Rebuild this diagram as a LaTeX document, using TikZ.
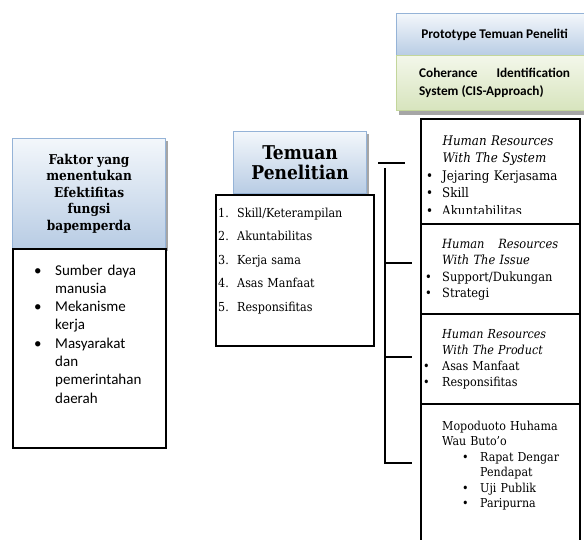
\documentclass[tikz,border=0pt]{standalone}
\usepackage{fontspec}
\setmainfont{DejaVu Serif Condensed}
\newfontfamily\calibri{Carlito}
\usetikzlibrary{shadows}
\definecolor{headblue}{HTML}{B8CCE4}
\definecolor{headbluetop}{HTML}{F3F7FB}
\definecolor{headblueline}{HTML}{95B3D7}
\definecolor{headgreen}{HTML}{D7E4BD}
\definecolor{headgreentop}{HTML}{F3F7EA}
\definecolor{headgreenline}{HTML}{C3D69B}
\begin{document}
\begin{tikzpicture}[x=1pt,y=-1pt]
        % Styles
        \tikzstyle{blue box}=[draw=headblueline,line width=1.2pt,top color=headbluetop,bottom color=headblue,drop shadow={shadow xshift=2.5pt,shadow yshift=-2.5pt,fill=black!35,opacity=1}]
        \tikzstyle{green box}=[draw=headgreenline,line width=1.2pt,top color=headgreentop,bottom color=headgreen,drop shadow={shadow xshift=2pt,shadow yshift=-4pt,fill=black!35,opacity=1}]
        \tikzstyle{list box}=[draw,line width=1.6pt,fill=white,anchor=north west]
        \tikzstyle{item box}=[draw,line width=1.6pt,fill=white,anchor=north west,minimum width=159pt]
        \tikzstyle{list text}=[anchor=base west,inner sep=0pt,align=left]
        \tikzstyle{connector}=[line width=1.4pt]
        \useasboundingbox (0,0) rectangle (584,539);
        %left column
        \node[blue box,anchor=north west,minimum width=153pt,minimum height=110pt,align=center,
              font=\bfseries\fontsize{13.5}{16.5}\selectfont] (faktor) at (12,138)
              {Faktor yang\\menentukan\\Efektifitas\\fungsi\\bapemperda};
        \node[list box,minimum width=153pt,minimum height=199pt] (faktorbox) at (12,248) {};
        \node[list text,text width=125pt,font=\calibri\fontsize{15}{18.3}\selectfont] (faktoritems) at (34,275)
              {\makebox[21pt][l]{•}Sumber daya\\\hspace*{21pt}manusia\\
               \makebox[21pt][l]{•}Mekanisme\\\hspace*{21pt}kerja\\
               \makebox[21pt][l]{•}Masyarakat\\\hspace*{21pt}dan\\\hspace*{21pt}pemerintahan\\\hspace*{21pt}daerah};
        %middle column
        \node[blue box,anchor=north west,minimum width=133pt,minimum height=62pt,align=center,
              font=\bfseries\fontsize{19}{20.5}\selectfont] (temuan) at (233,131) {Temuan\\Penelitian};
        \node[list box,minimum width=158pt,minimum height=151pt,drop shadow={shadow xshift=1.5pt,shadow yshift=-1.5pt,fill=black!40,opacity=1}] (temuanbox) at (215,194) {};
        \node[list text,text width=150pt,font=\fontsize{12.4}{23.5}\selectfont] (temuanitems) at (218,217)
              {\makebox[19pt][l]{1.}Skill/Keterampilan\\\makebox[19pt][l]{2.}Akuntabilitas\\
               \makebox[19pt][l]{3.}Kerja sama\\\makebox[19pt][l]{4.}Asas Manfaat\\\makebox[19pt][l]{5.}Responsifitas};
        %right column
        \node[blue box,anchor=north west,minimum width=196pt,minimum height=42pt,
              font=\calibri\bfseries\fontsize{13.3}{16}\selectfont] (prototype) at (396,13) {Prototype Temuan Peneliti};
        \node[green box,anchor=north west,minimum width=196pt,minimum height=55pt,align=left,
              font=\calibri\bfseries\fontsize{13.3}{18}\selectfont] (cis) at (396,55)
              {\hbox to 151pt{Coherance\hfill Identification}\\System (CIS-Approach)};
        \node[item box,minimum height=105pt] (system) at (420,118) {};
        \node[item box,minimum height=90pt] (issue) at (420,223) {};
        \node[item box,minimum height=90pt] (product) at (420,313) {};
        \node[item box,minimum height=145pt] (buto) at (420,403) {};
        \begin{scope}
            \clip (420,118) rectangle (579,213);
            \node[list text,text width=155pt,font=\fontsize{13.2}{17.5}\selectfont] (systemitems) at (426,145)
                  {\hspace*{16.5pt}\textit{Human Resources}\\\hspace*{16.5pt}\textit{With The System}\\
                   \makebox[16pt][l]{•}Jejaring Kerjasama\\\makebox[16pt][l]{•}Skill\\\makebox[16pt][l]{•}Akuntabilitas};
        \end{scope}
        \node[list text,text width=155pt,font=\fontsize{12.7}{16.5}\selectfont] (issueitems) at (425,248)
              {\hspace*{17pt}\hbox to 116pt{\itshape Human\hfill Resources}\\\hspace*{17pt}\textit{With The Issue}\\
               \makebox[17pt][l]{•}Support/Dukungan\\\makebox[17pt][l]{•}Strategi};
        \node[list text,text width=155pt,font=\fontsize{12.4}{16.3}\selectfont] (productitems) at (423,338)
              {\hspace*{19pt}\textit{Human Resources}\\\hspace*{19pt}\textit{With The Product}\\
               \makebox[19pt][l]{•}Asas Manfaat\\\makebox[19pt][l]{•}Responsifitas};
        \node[list text,text width=150pt,font=\fontsize{12.3}{15.5}\selectfont] (butoitems) at (442,430)
              {Mopoduoto Huhama\\Wau Buto'o\\
               \hspace*{20pt}\makebox[18pt][l]{•}Rapat Dengar\\\hspace*{38pt}Pendapat\\
               \hspace*{20pt}\makebox[18pt][l]{•}Uji Publik\\\hspace*{20pt}\makebox[18pt][l]{•}Paripurna};
        %connectors
        \coordinate (temuan end) at (378,163);
        \coordinate (temuan tick) at (405,163);
        \coordinate (bus top) at (385,168);
        \draw[connector] (temuan end) -- (temuan tick);
        \foreach \stub/\yy in {issue/263,product/357}
        {
            \coordinate (\stub stub) at (412,\yy);
            \draw[connector] (bus top |- \stub stub) -- (\stub stub);
        }
        \coordinate (buto stub) at (412,463);
        \draw[connector] (bus top) -- (bus top |- buto stub) -- (buto stub);
\end{tikzpicture}
\end{document}
